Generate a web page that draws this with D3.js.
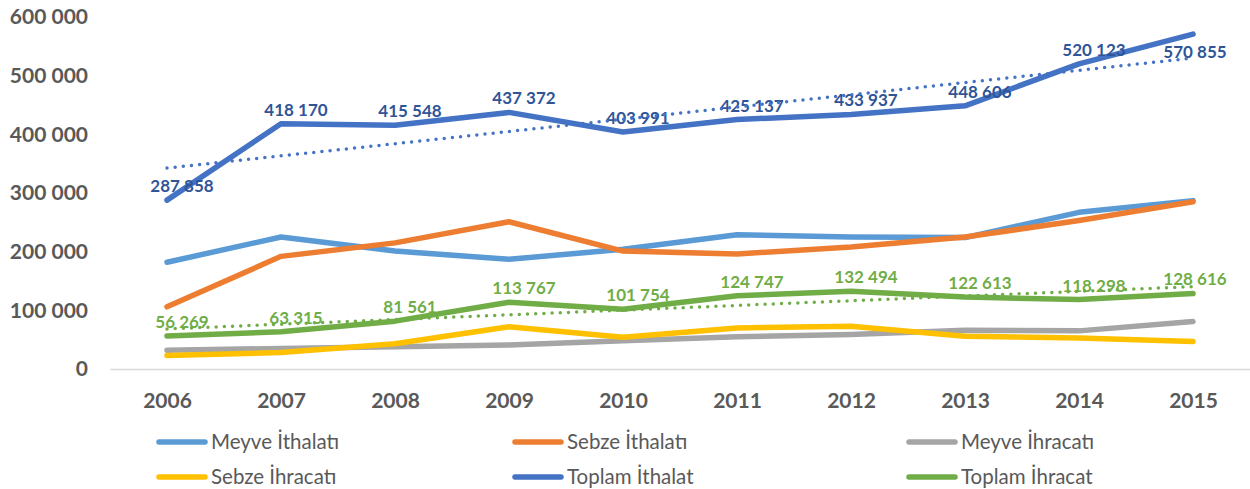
<!DOCTYPE html>
<html>
<head>
<meta charset="utf-8">
<script src="https://cdn.jsdelivr.net/npm/d3@7"></script>
<style>
  body { margin: 0; background: #fff; }
  svg text { font-family: Lato, "Open Sans", sans-serif; }
</style>
</head>
<body>
<svg id="chart" width="1250" height="489"></svg>
<script>
// years on the category axis
let years = ["2006", "2007", "2008", "2009", "2010", "2011", "2012", "2013", "2014", "2015"];

// series values (totals from the data labels)
let meyveIthalati  = [182000, 225000, 201000, 187000, 204000, 229000, 225000, 224000, 267000, 287000];
let sebzeIthalati  = [106000, 192000, 215000, 251000, 201000, 196000, 208000, 225000, 253000, 285000];
let meyveIhracati  = [ 32000,  35000,  38000,  41000,  48000,  55000,  59000,  66000,  65000,  81000];
let sebzeIhracati  = [ 23000,  28000,  43000,  72000,  54000,  70000,  73000,  56000,  53000,  47000];
let toplamIthalat  = [287858, 418170, 415548, 437372, 403991, 425137, 433937, 448606, 520123, 570855];
let toplamIhracat  = [ 56269,  63315,  81561, 113767, 101754, 124747, 132494, 122613, 118298, 128616];

let yTicks = [0, 100000, 200000, 300000, 400000, 500000, 600000];

let series = [
    {name: "Meyve İthalatı", values: meyveIthalati, color: "#5B9BD5"},
    {name: "Sebze İthalatı", values: sebzeIthalati, color: "#ED7D31"},
    {name: "Meyve İhracatı", values: meyveIhracati, color: "#A5A5A5"},
    {name: "Sebze İhracatı", values: sebzeIhracati, color: "#FFC000"},
    {name: "Toplam İthalat", values: toplamIthalat, color: "#4472C4", label: "#2F5597", trend: true},
    {name: "Toplam İhracat", values: toplamIhracat, color: "#70AD47", label: "#70AD47", trend: true}
];

let svg = d3.select("#chart");

let x = d3.scalePoint()
    .domain(years)
    .range([110, 1250])
    .padding(0.5);

let y = d3.scaleLinear()
    .domain([0, 600000])
    .range([369, 17]);

let fmt = function(v) { return d3.format(",")(v).replace(/,/g, " "); };

// y axis labels
let yAxis = d3.axisLeft(y)
    .tickValues(yTicks)
    .tickSize(0)
    .tickPadding(10)
    .tickFormat(fmt);

svg.append("g")
    .attr("transform", "translate(98,0)")
    .call(yAxis)
    .call(function(g) { g.select(".domain").remove(); })
    .selectAll("text")
    .attr("fill", "#595959")
    .style("font-size", "21px")
    .style("font-weight", "bold");

// x axis
let xAxis = d3.axisBottom(x)
    .tickSize(0)
    .tickSizeOuter(0)
    .tickPadding(24);

let gx = svg.append("g")
    .attr("transform", "translate(0,369)")
    .call(xAxis);

gx.select(".domain")
    .attr("stroke", "#D9D9D9")
    .attr("stroke-width", 1.5);

gx.selectAll("text")
    .attr("fill", "#595959")
    .style("font-size", "21px")
    .style("font-weight", "bold");

let line = d3.line()
    .x(function(d, i) { return x(years[i]); })
    .y(function(d) { return y(d); });

series.forEach(function(s) {
    svg.append("path")
        .datum(s.values)
        .attr("fill", "none")
        .attr("stroke", s.color)
        .attr("stroke-width", 5.5)
        .attr("stroke-linecap", "round")
        .attr("stroke-linejoin", "round")
        .attr("d", line);
});

// data labels for the two totals
series.filter(function(s) { return s.label; }).forEach(function(s) {
    let last = s.values.length - 1;
    svg.append("g").selectAll("text")
        .data(s.values)
        .enter().append("text")
        .attr("x", function(d, i) { return x(years[i]) + (i === last ? 2 : 15); })
        .attr("y", function(d, i) {
            // the last label of the import total sits under its point
            if (i === last && s.name === "Toplam İthalat") return y(d) + 18;
            return y(d) - 14;
        })
        .attr("dy", "0.35em")
        .attr("text-anchor", "middle")
        .attr("fill", s.label)
        .style("font-size", "17px")
        .style("font-weight", "bold")
        .text(fmt);
});

// linear trendlines (least squares over the year index)
function linearFit(values) {
    let n = values.length,
        xs = d3.range(1, n + 1),
        mx = d3.mean(xs),
        my = d3.mean(values),
        sxy = d3.sum(xs, function(v, i) { return (v - mx) * (values[i] - my); }),
        sxx = d3.sum(xs, function(v) { return (v - mx) * (v - mx); }),
        b = sxy / sxx,
        a = my - b * mx;
    return xs.map(function(v) { return a + b * v; });
}

series.filter(function(s) { return s.trend; }).forEach(function(s) {
    let fit = linearFit(s.values);
    svg.append("path")
        .datum(fit)
        .attr("fill", "none")
        .attr("stroke", s.color)
        .attr("stroke-width", 3.5)
        .attr("stroke-linecap", "round")
        .attr("stroke-dasharray", "0,8.2")
        .attr("d", line);
});

// legend, three columns by two rows
let legendCols = [157, 513, 907],
    legendRows = [442, 477];

let legend = svg.append("g").selectAll("g")
    .data(series)
    .enter().append("g")
    .attr("transform", function(d, i) {
        return "translate(" + legendCols[i % 3] + "," + legendRows[Math.floor(i / 3)] + ")";
    });

legend.append("line")
    .attr("x1", 2)
    .attr("x2", 48)
    .attr("stroke", function(d) { return d.color; })
    .attr("stroke-width", 5.5)
    .attr("stroke-linecap", "round");

legend.append("text")
    .attr("x", 54)
    .attr("dy", "0.32em")
    .attr("fill", "#595959")
    .style("font-size", "20.5px")
    .text(function(d) { return d.name; });
</script>
</body>
</html>
